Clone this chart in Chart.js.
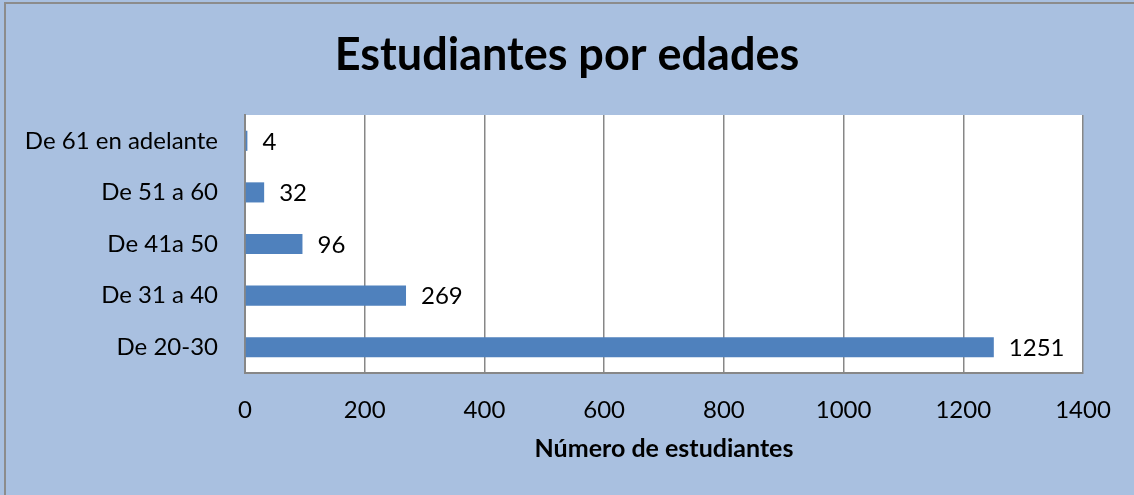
<!DOCTYPE html>
<html>
<head>
<meta charset="utf-8">
<script src="https://cdn.jsdelivr.net/npm/chart.js@4"></script>
<style>
  html, body { margin: 0; padding: 0; background: #ffffff; }
  #chart { display: block; }
</style>
</head>
<body>
<canvas id="chart" width="1134" height="495"></canvas>
<script>
// Data (bottom to top)
const ageGroups = ['De 20-30', 'De 31 a 40', 'De 41a 50', 'De 51 a 60', 'De 61 en adelante'];
const studentCounts = [1251, 269, 96, 32, 4];
const xTicks = [0, 200, 400, 600, 800, 1000, 1200, 1400];

const FONT = 'Lato, "Open Sans", sans-serif';

/**
 * Light blue chart background with grey frame
 */
const backgroundPlugin = {
  id: 'chartBackground',
  beforeDraw(chart) {
    const ctx = chart.ctx;
    ctx.save();
    ctx.fillStyle = '#A9C0E0';
    ctx.fillRect(0, 0, chart.width, chart.height);
    // plot area is white
    const a = chart.chartArea;
    ctx.fillStyle = '#ffffff';
    ctx.fillRect(a.left, a.top, a.right - a.left, a.bottom - a.top);
    ctx.strokeStyle = '#8C8C8C';
    ctx.lineWidth = 2;
    ctx.strokeRect(5, 3, chart.width + 10, chart.height + 10);
    ctx.restore();
  }
};

/**
 * Value labels to the right of each bar
 */
const valueLabelPlugin = {
  id: 'valueLabels',
  afterDatasetsDraw(chart) {
    const ctx = chart.ctx;
    const meta = chart.getDatasetMeta(0);
    ctx.save();
    ctx.font = '24px ' + FONT;
    ctx.fillStyle = '#000000';
    ctx.textAlign = 'left';
    ctx.textBaseline = 'middle';
    meta.data.forEach((bar, i) => {
      ctx.fillText(String(studentCounts[i]), bar.x + 15, bar.y + 1);
    });
    ctx.restore();
  }
};

new Chart(document.getElementById('chart'), {
  type: 'bar',
  data: {
    labels: ageGroups,
    datasets: [{
      data: studentCounts,
      backgroundColor: '#4F81BD',
      borderWidth: 0,
      barPercentage: 0.39,
      categoryPercentage: 1
    }]
  },
  options: {
    indexAxis: 'y',
    responsive: false,
    animation: false,
    layout: {
      padding: 0
    },
    plugins: {
      legend: { display: false },
      tooltip: { enabled: false },
      title: {
        display: true,
        text: 'Estudiantes por edades',
        color: '#000000',
        font: { family: FONT, size: 45, weight: 'bold', lineHeight: 1.2 },
        padding: { top: 28, bottom: 33 }
      }
    },
    scales: {
      x: {
        min: 0,
        max: 1400,
        afterBuildTicks: (axis) => {
          axis.ticks = xTicks.map(v => ({ value: v }));
        },
        afterFit: (axis) => {
          axis.height = 122;
        },
        grid: {
          color: '#878787',
          lineWidth: 1.5,
          drawTicks: false
        },
        border: { display: true, color: '#878787', width: 2 },
        ticks: {
          color: '#000000',
          padding: 23,
          maxRotation: 0,
          callback: (value) => String(value),
          font: { family: FONT, size: 24, lineHeight: 1.2 }
        },
        title: {
          display: true,
          text: 'Número de estudiantes',
          color: '#000000',
          font: { family: FONT, size: 25, weight: 'bold', lineHeight: 1.2 },
          padding: { top: 10, bottom: 31 }
        }
      },
      y: {
        reverse: true,
        afterFit: (axis) => {
          axis.width = 245;
        },
        grid: { display: false, drawTicks: false },
        border: { display: true, color: '#878787', width: 2 },
        ticks: {
          color: '#000000',
          padding: 27,
          font: { family: FONT, size: 24, lineHeight: 1.2 }
        }
      },
      // empty right-hand margin so the title stays centred on the whole chart
      yRight: {
        type: 'category',
        position: 'right',
        afterFit: (axis) => {
          axis.width = 51;
        },
        grid: { display: false, drawTicks: false },
        border: { display: false },
        ticks: { display: false }
      }
    }
  },
  plugins: [backgroundPlugin, valueLabelPlugin]
});
</script>
</body>
</html>
